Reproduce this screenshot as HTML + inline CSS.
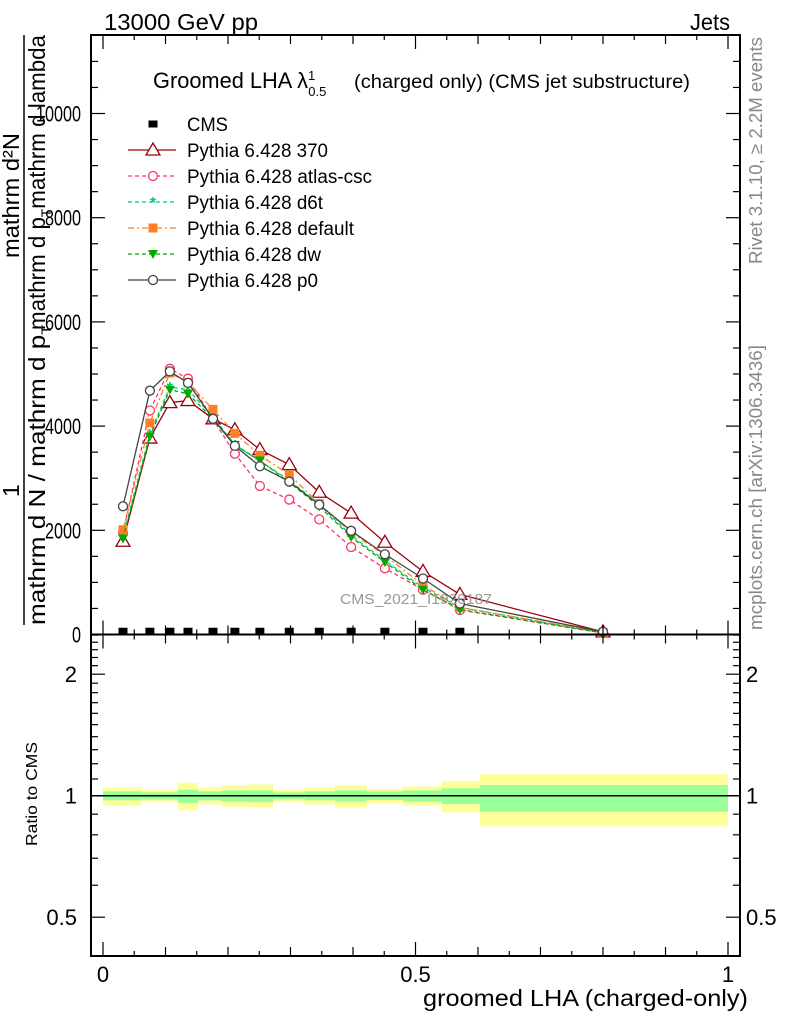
<!DOCTYPE html>
<html><head><meta charset="utf-8">
<style>
html,body{margin:0;padding:0;background:#fff;}
svg{display:block;font-family:"Liberation Sans",sans-serif;}
</style></head>
<body>
<svg id="chart" width="786" height="1024" viewBox="0 0 786 1024" xmlns="http://www.w3.org/2000/svg">
<g id="bands"></g>
<g id="plots"></g>
<g id="frame"></g>
<text x="104" y="30" font-size="23" textLength="154" lengthAdjust="spacingAndGlyphs">13000 GeV pp</text>
<text x="690" y="30" font-size="23" textLength="40" lengthAdjust="spacingAndGlyphs">Jets</text>
<text x="153" y="88" font-size="22"><tspan textLength="155" lengthAdjust="spacingAndGlyphs">Groomed LHA λ</tspan><tspan font-size="13" dy="-8">1</tspan><tspan font-size="13" dx="-7" dy="16">0.5</tspan><tspan font-size="19" x="354" dy="-8" textLength="336" lengthAdjust="spacingAndGlyphs">(charged only) (CMS jet substructure)</tspan></text>
<text transform="translate(762,264) rotate(-90)" font-size="18" fill="#888" textLength="227" lengthAdjust="spacingAndGlyphs">Rivet 3.1.10, ≥ 2.2M events</text>
<text transform="translate(762,630) rotate(-90)" font-size="18" fill="#888" textLength="285" lengthAdjust="spacingAndGlyphs">mcplots.cern.ch [arXiv:1306.3436]</text>
<text x="340" y="604" font-size="15" fill="#999" textLength="152" lengthAdjust="spacingAndGlyphs">CMS_2021_I1920187</text>
<g>
<text transform="translate(19,258) rotate(-90)" font-size="23" textLength="125" lengthAdjust="spacingAndGlyphs">mathrm d²N</text>
<text transform="translate(19,497) rotate(-90)" font-size="23">1</text>
<line x1="24" y1="35" x2="24" y2="625" stroke="#000" stroke-width="1.5"/>
<text transform="translate(45,625) rotate(-90)" font-size="23" textLength="300" lengthAdjust="spacingAndGlyphs">mathrm d N / mathrm d p<tspan font-size="14" dy="6">T</tspan></text>
<text transform="translate(45,330) rotate(-90)" font-size="23" textLength="295" lengthAdjust="spacingAndGlyphs">mathrm d p<tspan font-size="14" dy="6">T</tspan><tspan dy="-6">mathrm d lambda</tspan></text>
</g>
<text transform="translate(37,846) rotate(-90)" font-size="16" textLength="104" lengthAdjust="spacingAndGlyphs">Ratio to CMS</text>
<text x="423" y="1006" font-size="23" textLength="325" lengthAdjust="spacingAndGlyphs">groomed LHA (charged-only)</text>
<g id="legend"></g>
</svg>
<script>
const xs = [0.032,0.075,0.107,0.136,0.176,0.211,0.251,0.298,0.346,0.397,0.451,0.512,0.571,0.8];
const cmsX = [0.032,0.075,0.107,0.136,0.176,0.211,0.251,0.298,0.346,0.397,0.451,0.512,0.571];
const cmsY = [5,5,5,5,5,5,5,5,5,5,5,5,5];
const y370 = [1790,3770,4450,4490,4140,3930,3550,3260,2730,2330,1770,1210,770,50];
const yAtlas = [1950,4300,5100,4910,4130,3470,2850,2590,2210,1680,1270,860,470,30];
const yD6t = [1880,3850,4750,4700,4180,3640,3330,2960,2500,1900,1420,900,520,35];
const yDefault = [2010,4060,5020,4840,4320,3860,3440,3070,2510,1960,1520,950,520,40];
const yDw = [1840,3800,4700,4620,4140,3640,3340,2920,2460,1870,1390,860,480,30];
const yP0 = [2460,4680,5050,4830,4140,3620,3230,2935,2490,1990,1540,1075,595,50];
const binEdges = [0,0.062,0.12,0.152,0.19,0.23,0.272,0.322,0.371,0.422,0.48,0.542,0.603,1.0];
const yelUp = [.047,.035,.077,.047,.062,.066,.035,.047,.062,.040,.054,.087,.13];
const yelDn = [.054,.033,.080,.048,.061,.065,.036,.048,.065,.042,.055,.091,.16];
const grnUp = [.025,.019,.035,.025,.031,.031,.019,.025,.031,.025,.031,.043,.063];
const grnDn = [.026,.022,.040,.026,.033,.036,.020,.026,.033,.024,.033,.047,.087];
const mainTicks = [0,2000,4000,6000,8000,10000];
const ratioTicks = [0.5,1,2];
const xTicks = [0,0.5,1];

const NS="http://www.w3.org/2000/svg";
const L=91,R=740,T=35,MB=634.5,RB=956;
const X=v=>103+v*625;
const Y=v=>MB-v*0.0521;
const RY=v=>795.7-Math.log2(v)*121.5;
function mk(tag,attrs,parent){const e=document.createElementNS(NS,tag);for(const k in attrs)e.setAttribute(k,attrs[k]);parent.appendChild(e);return e;}
const bands=document.getElementById('bands'),plots=document.getElementById('plots'),frame=document.getElementById('frame'),legend=document.getElementById('legend');

for(let i=0;i<yelUp.length;i++){
  const x0=X(binEdges[i]),x1=X(binEdges[i+1]);
  const a=mk('rect',{x:x0,y:RY(1+yelUp[i]),width:x1-x0,height:RY(1-yelDn[i])-RY(1+yelUp[i]),fill:'#ffff99'},bands);
  
  
  const b=mk('rect',{x:x0,y:RY(1+grnUp[i]),width:x1-x0,height:RY(1-grnDn[i])-RY(1+grnUp[i]),fill:'#99ff99'},bands);
  
  
}
const one=mk('line',{x1:L,x2:R,y1:RY(1),y2:RY(1),stroke:'#000','stroke-width':1.5},bands);



function marker(type,cx,cy,color,parent,s){
  s=s||4.5;let e;
  if(type==='sq'){e=mk('rect',{x:cx-4.5,y:cy-3.5,width:9,height:7,fill:color},parent);}
  else if(type==='tri'){e=mk('polygon',{points:`${cx},${cy-7} ${cx-7},${cy+5} ${cx+7},${cy+5}`,fill:'#fff',stroke:color,'stroke-width':1.3},parent);}
  else if(type==='circ'){e=mk('circle',{cx:cx,cy:cy,r:s,fill:'#fff',stroke:color,'stroke-width':1.3},parent);}
  else if(type==='osq'){e=mk('rect',{x:cx-4.5,y:cy-4.5,width:9,height:9,fill:color},parent);}
  else if(type==='star'){e=mk('text',{x:cx,y:cy+6,'font-size':16,'text-anchor':'middle',fill:color,'font-weight':'bold'},parent);e.textContent='*';}
  else if(type==='dtri'){e=mk('polygon',{points:`${cx-5},${cy-4} ${cx+5},${cy-4} ${cx},${cy+5}`,fill:color},parent);}
  return e;
}
const series=[
 {name:'Pythia 6.428 370',vals:y370,color:'#990011',dash:'',m:'tri',id:'series-370',w:141},
 {name:'Pythia 6.428 atlas-csc',vals:yAtlas,color:'#ff3366',dash:'4,3',m:'circ',id:'series-atlas-csc',w:185},
 {name:'Pythia 6.428 d6t',vals:yD6t,color:'#00cc77',dash:'4,3',m:'star',id:'series-d6t',w:136},
 {name:'Pythia 6.428 default',vals:yDefault,color:'#ff7f27',dash:'6,3,2,3',m:'osq',id:'series-default',w:167},
 {name:'Pythia 6.428 dw',vals:yDw,color:'#00aa00',dash:'4,3',m:'dtri',id:'series-dw',w:134},
 {name:'Pythia 6.428 p0',vals:yP0,color:'#444444',dash:'',m:'circ',id:'series-p0',w:131}
];
series.forEach(s=>{
  const g=mk('g',{},plots);
  
  
  const pts=s.vals.map((v,i)=>X(xs[i])+','+Y(v)).join(' ');
  const pl=mk('polyline',{points:pts,fill:'none',stroke:s.color,'stroke-width':1.3,'stroke-dasharray':s.dash},g);
  
  
  s.vals.forEach((v,i)=>{
    const m=marker(s.m,X(xs[i]),Y(v),s.color,g);
    
    
  });
});
cmsX.forEach((x,i)=>{
  const m=marker('sq',X(x),Y(cmsY[i])-3,'#000',plots);
  
  
});

[[T,MB],[MB,RB]].forEach(([t,b],k)=>{
  const r=mk('rect',{x:L,y:t,width:R-L,height:b-t,fill:'none',stroke:'#000','stroke-width':2},frame);
  
  
  for(let v=0;v<=1.0001;v+=0.05){
    const major=Math.abs(v*10-Math.round(v*10))<1e-6 ? (Math.abs(v*2-Math.round(v*2))<1e-6?14:9):5;
    mk('line',{x1:X(v),x2:X(v),y1:b,y2:b-major,stroke:'#000','stroke-width':1.2},frame);
    mk('line',{x1:X(v),x2:X(v),y1:t,y2:t+major,stroke:'#000','stroke-width':1.2},frame);
  }
});
for(let v=0;v<=11000;v+=500){
  const len=v%2000===0?14:7;
  mk('line',{x1:L,x2:L+len,y1:Y(v),y2:Y(v),stroke:'#000','stroke-width':1.2},frame);
  mk('line',{x1:R,x2:R-len,y1:Y(v),y2:Y(v),stroke:'#000','stroke-width':1.2},frame);
}
mainTicks.forEach(v=>{
  const s=String(v);
  const t=mk('text',{x:81-9*s.length,y:Y(v)+8,'font-size':22,textLength:9*s.length,lengthAdjust:'spacingAndGlyphs'},frame);
  t.textContent=s;
  
  
});
[0.4,0.5,0.6,0.7,0.8,0.9,1,1.1,1.2,1.3,1.4,1.5,1.6,1.7,1.8,1.9,2,2.1,2.2,2.3,2.4,2.5].forEach(v=>{
  const len=(v===0.5||v===1||v===2)?14:7;
  if(RY(v)>MB-1&&RY(v)<RB){
    mk('line',{x1:L,x2:L+len,y1:RY(v),y2:RY(v),stroke:'#000','stroke-width':1.2},frame);
    mk('line',{x1:R,x2:R-len,y1:RY(v),y2:RY(v),stroke:'#000','stroke-width':1.2},frame);
  }
});
ratioTicks.forEach(v=>{
  const t=mk('text',{x:77,y:RY(v)+8,'font-size':22,'text-anchor':'end'},frame);
  t.textContent=String(v);
  
  
  const t2=mk('text',{x:746,y:RY(v)+8,'font-size':22},frame);
  t2.textContent=String(v);
  
  
});
xTicks.forEach(v=>{
  const t=mk('text',{x:X(v),y:982,'font-size':22,'text-anchor':'middle'},frame);
  t.textContent=String(v);
  
  
});

const entries=[{name:'CMS',m:'sq',color:'#000',dash:null,w:41}].concat(series);
entries.forEach((e,i)=>{
  const y=124+i*26;
  const g=mk('g',{},legend);
  
  
  if(e.dash!==null){mk('line',{x1:128,x2:176,y1:y,y2:y,stroke:e.color,'stroke-width':1.3,'stroke-dasharray':e.dash},g);}
  marker(e.m,153,y,e.color,g);
  const t=mk('text',{x:187,y:y+7,'font-size':19,textLength:e.w,lengthAdjust:'spacingAndGlyphs'},g);
  t.textContent=e.name;
});
</script>
</body></html>
